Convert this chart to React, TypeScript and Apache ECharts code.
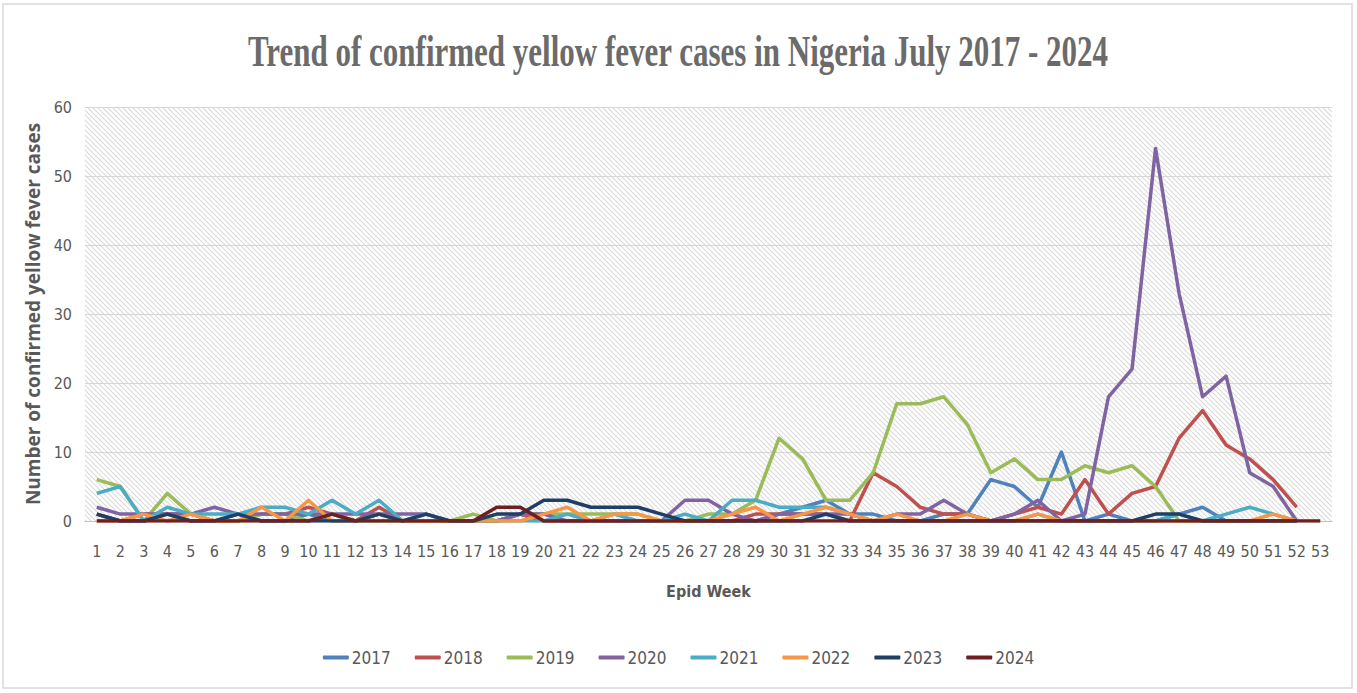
import React, { useEffect, useRef } from "react";
import * as echarts from "echarts";

const weeks: string[] = Array.from({ length: 53 }, (_, i) => String(i + 1));
const yearNames = ["2017", "2018", "2019", "2020", "2021", "2022", "2023", "2024"];
const yearColors = ["#4F81BD", "#C0504D", "#9BBB59", "#8064A2", "#4BACC6", "#F79646", "#1F3F66", "#6E1F1F"];

const y2017 = [1,0,0,1,0,0,1,0,0,1, 0,0,1,0,0,0,0,0,1,0, 0,0,0,0,0,0,0,0,0,1, 2,3,1,1,0,0,1,1,6,5, 2,10,0,1,0,0,1,2,0,0, 0,0,null];
const y2018 = [1,0,1,1,1,0,0,1,1,2, 1,0,2,0,0,0,0,0,1,0, 0,0,0,0,0,0,0,0,1,1, 1,1,0,7,5,2,1,1,0,1, 2,1,6,1,4,5,12,16,11,9, 6,2,null];
const y2019 = [6,5,0,4,1,0,0,1,1,0, 1,0,0,0,0,0,1,0,1,1, 1,1,1,1,0,0,1,1,3,12, 9,3,3,7,17,17,18,14,7,9, 6,6,8,7,8,5,0,0,0,0, 0,0,null];
const y2020 = [2,1,1,1,1,2,1,1,1,1, 1,1,1,1,1,0,0,0,1,1, 0,0,0,0,0,3,3,1,0,1, 1,1,1,0,1,1,3,1,0,1, 3,0,1,18,22,54,33,18,21,7, 5,0,null];
const y2021 = [4,5,0,2,1,1,1,2,2,1, 3,1,3,0,1,0,0,0,0,0, 1,0,1,0,0,1,0,3,3,2, 2,2,1,0,0,0,0,0,0,0, 1,0,0,0,0,0,1,0,1,2, 1,0,null];
const y2022 = [0,0,1,0,1,0,0,2,0,3, 0,0,1,0,0,0,0,0,0,1, 2,0,1,1,0,0,0,1,2,0, 1,2,1,0,1,0,0,1,0,0, 1,0,0,0,0,0,0,0,0,0, 1,0,null];
const y2023 = [1,0,0,1,0,0,1,0,0,0, 0,0,1,0,1,0,0,1,1,3, 3,2,2,2,1,0,0,0,0,0, 0,1,0,0,0,0,0,0,0,0, 0,0,0,0,0,1,1,0,0,0, 0,0,null];
const y2024 = [0,0,0,0,0,0,0,0,0,0, 1,0,0,0,0,0,0,2,2,0, 0,0,0,0,0,0,0,0,0,0, 0,0,0,0,0,0,0,0,0,0, 0,0,0,0,0,0,0,0,0,0, 0,0,0];
const yearValues = [y2017, y2018, y2019, y2020, y2021, y2022, y2023, y2024];

const yTicks = { min: 0, max: 60, interval: 10 };
const titleText = "Trend of confirmed yellow fever cases in Nigeria July 2017 - 2024";
const xTitle = "Epid Week";
const yTitle = "Number of confirmed yellow fever cases";

const NARROW = "'Liberation Sans Narrow', 'DejaVu Sans Condensed', 'Liberation Sans', sans-serif";

function makeHatch() {
  const c = document.createElement("canvas");
  c.width = 5;
  c.height = 5;
  const ctx = c.getContext("2d")!;
  ctx.fillStyle = "#ffffff";
  ctx.fillRect(0, 0, 5, 5);
  ctx.strokeStyle = "#dadada";
  ctx.lineWidth = 1.1;
  ctx.beginPath();
  ctx.moveTo(-1, -1);
  ctx.lineTo(6, 6);
  ctx.moveTo(-1, 4);
  ctx.lineTo(1, 6);
  ctx.moveTo(4, -1);
  ctx.lineTo(6, 1);
  ctx.stroke();
  return c;
}

export default function App() {
  const ref = useRef<HTMLDivElement>(null);
  useEffect(() => {
    document.body.style.margin = "0";
    if (!ref.current) return;
    const chart = echarts.init(ref.current, null, { renderer: "svg" });
    const hatch = makeHatch();
    chart.setOption({
      animation: false,
      backgroundColor: "#ffffff",
      grid: {
        left: 85,
        right: 25,
        top: 107,
        bottom: 172,
        show: true,
        borderWidth: 0,
        backgroundColor: { image: hatch, repeat: "repeat", imageWidth: 5, imageHeight: 5 } as any,
      },
      graphic: [
        {
          type: "rect",
          shape: { x: 3, y: 4, width: 1349, height: 684 },
          style: { fill: "none", stroke: "#d9d9d9", lineWidth: 1.5 },
          silent: true,
        },
        {
          type: "text",
          x: 678,
          y: 51,
          scaleY: 1.45,
          style: {
            text: titleText,
            fill: "#6b6b6b",
            font: "bold 31px 'Liberation Serif', 'DejaVu Serif', serif",
            textAlign: "center",
            textVerticalAlign: "middle",
          },
        },
      ],
      legend: {
        data: yearNames,
        bottom: 22,
        left: "center",
        icon: "roundRect",
        itemWidth: 26,
        itemHeight: 4,
        itemGap: 24,
        textStyle: { color: "#595959", fontSize: 17, fontFamily: NARROW, padding: [0, 0, 0, -2] },
      },
      xAxis: {
        type: "category",
        data: weeks,
        boundaryGap: true,
        name: xTitle,
        nameLocation: "middle",
        nameGap: 62,
        nameTextStyle: { color: "#595959", fontSize: 16, fontWeight: "bold", fontFamily: NARROW },
        axisLine: { show: true, lineStyle: { color: "#bfbfbf", width: 1 } },
        axisTick: { show: false },
        axisLabel: { interval: 0, color: "#595959", fontSize: 16, margin: 22, fontFamily: NARROW },
        splitLine: { show: false },
      },
      yAxis: {
        type: "value",
        min: yTicks.min,
        max: yTicks.max,
        interval: yTicks.interval,
        name: yTitle,
        nameLocation: "middle",
        nameGap: 40,
        nameRotate: 90,
        nameTextStyle: { color: "#595959", fontSize: 19, fontWeight: "bold", fontFamily: "'Open Sans', 'DejaVu Sans', sans-serif" },
        axisLine: { show: false },
        axisTick: { show: false },
        axisLabel: { color: "#595959", fontSize: 16, margin: 13, fontFamily: NARROW },
        splitLine: { show: true, lineStyle: { color: "#d6d6d6", width: 1.2 } },
      },
      series: yearNames.map((name, i) => ({
        name,
        type: "line",
        data: yearValues[i],
        showSymbol: false,
        symbol: "none",
        color: yearColors[i],
        lineStyle: { width: 3.5, color: yearColors[i], join: "round" },
        connectNulls: false,
      })),
    });
    return () => chart.dispose();
  }, []);
  return <div ref={ref} style={{ width: 1357, height: 693 }} />;
}
